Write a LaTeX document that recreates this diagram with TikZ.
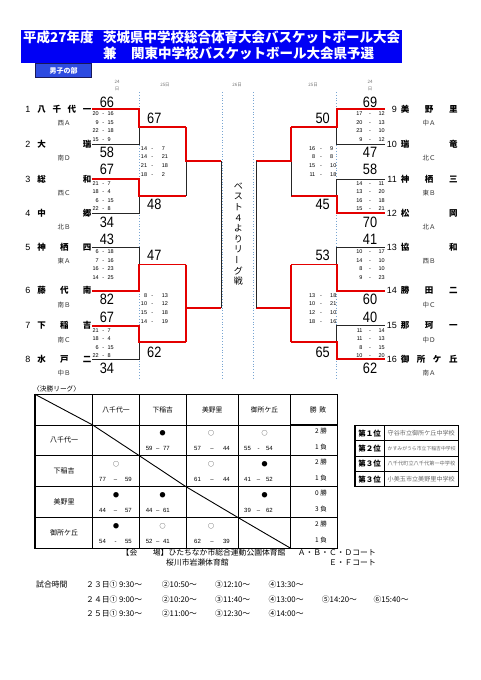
\documentclass[tikz,border=0pt]{standalone}
\usepackage{fontspec}
\usepackage{graphicx}
\setmainfont{Noto Sans CJK JP}
\newfontfamily\arialn[FakeStretch=0.85]{Liberation Sans}
\newfontfamily\arialf{Liberation Sans}
\definecolor{wred}{RGB}{228,0,0}
\definecolor{dotblue}{RGB}{120,165,210}
\definecolor{bannerblue}{RGB}{0,0,245}
\definecolor{tabblue}{RGB}{45,75,225}
\definecolor{tabedge}{RGB}{25,25,90}
\tikzset{
 blk/.style={line width=0.9pt, draw=black!85},
 win/.style={line width=1.9pt, draw=wred},
 dotl/.style={dotted, draw=dotblue, line width=0.8pt},
 bigsc/.style={inner sep=0pt, font=\arialn\fontsize{15}{15}\selectfont, text height=12pt, text depth=1.2pt},
 smsc/.style={inner sep=0pt, font=\arialf\fontsize{5.5}{6}\selectfont, text height=4.4pt, text depth=0.45pt},
 tname/.style={inner sep=0pt, font=\bfseries\fontsize{8.5}{9}\selectfont, text height=6.8pt, text depth=0.7pt},
 tnum/.style={inner sep=0pt, font=\arialf\fontsize{9}{9}\selectfont, text height=7.2pt, text depth=0.7pt},
 treg/.style={inner sep=0pt, font=\fontsize{6.5}{7}\selectfont, text=black!80, text height=5.2pt, text depth=0.5pt},
 datel/.style={inner sep=0pt, font=\fontsize{4.5}{5}\selectfont, text=black!55},
 ttl/.style={inner sep=0pt, text=white, font=\bfseries\fontsize{13.5}{14}\selectfont},
 vtxt/.style={inner sep=0pt, font=\fontsize{9}{9}\selectfont},
 tin/.style={line width=0.6pt, draw=black},
 tthick/.style={line width=1.2pt, draw=black},
 lhead/.style={inner sep=0pt, font=\fontsize{6.8}{7}\selectfont},
 lrow/.style={inner sep=0pt, font=\fontsize{7}{7}\selectfont},
 lsym/.style={inner sep=0pt, font=\fontsize{6}{6}\selectfont},
 lsc/.style={inner sep=0pt, font=\arialf\fontsize{6}{6}\selectfont, text height=4.8pt, text depth=0.5pt},
 wl/.style={inner sep=0pt, font=\fontsize{6.5}{7}\selectfont},
 rank/.style={inner sep=0pt, font=\bfseries\fontsize{7.5}{8}\selectfont},
 school/.style={inner sep=0pt, text=black!60, anchor=west},
 plain/.style={inner sep=0pt, anchor=west, font=\fontsize{7.8}{8}\selectfont},
}
% bracket match: winner t (top), b (bottom) or a (both halves red, output from bottom)
\newcommand\match[8]{%
 \coordinate (#1ta) at (#2,#5); \coordinate (#1tb) at (#3,#5);
 \coordinate (#1ba) at (#2,#6); \coordinate (#1bb) at (#3,#6);
 \coordinate (#1o) at (#3,#7); \coordinate (#1n) at (#4,#7);
 \draw[blk] (#1ta) -- (#1tb) -- (#1bb) -- (#1ba);
 \if t#8\relax
  \draw[win] (#1ta) -- (#1tb) -- (#1o) -- (#1n);
 \fi
 \if b#8\relax
  \draw[win] (#1ba) -- (#1bb) -- (#1o) -- (#1n);
 \fi
 \if a#8\relax
  \draw[win] (#1ta) -- (#1tb) -- (#1bb) -- (#1ba);
  \draw[win] (#1o) -- (#1n);
 \fi}
\newcommand\sfour[7]{%
 \foreach \sa/\sb [count=\si] in {#7} {
  \pgfmathsetmacro\yy{#5+#6*(\si-1)}
  \node[smsc,anchor=east] (#1a\si) at (#2,\yy) {\sa};
  \node[smsc] (#1h\si) at (#3,\yy) {-};
  \node[smsc,anchor=west] (#1b\si) at (#4,\yy) {\sb};
 }}
\newcommand\teamL[6]{%
 \node[tnum] (#1n) at (28,#3) {#2};
 \foreach \tch [count=\ti] in {#5} {
  \pgfmathsetmacro\xx{41.7+(\ti-1)*45.3/(#4-1)}
  \node[tname] (#1c\ti) at (\xx,#3) {\tch};}
 \node[treg] (#1r) at (64,#3+14) {#6};}
\newcommand\teamR[6]{%
 \node[tnum,anchor=east] (#1n) at (397,#3) {#2};
 \foreach \tch [count=\ti] in {#5} {
  \pgfmathsetmacro\xx{405+(\ti-1)*48.3/(#4-1)}
  \node[tname] (#1c\ti) at (\xx,#3) {\tch};}
 \node[treg] (#1r) at (429,#3+14) {#6};}
\newcommand\lcell[9]{%
 \node[lsym] (#1s) at (#2,#5+8.5) {#6};
 \node[lsc,anchor=west] (#1a) at (#3,#5+23.5) {#7};
 \node[lsc] (#1h) at ({(#3+#4)/2},#5+23.5) {#8};
 \node[lsc,anchor=east] (#1b) at (#4,#5+23.5) {#9};}
\begin{document}
\begin{tikzpicture}[x=1pt,y=-1pt]
\useasboundingbox (0,0) rectangle (481,680);
\fill[white] (0,0) rectangle (481,680);
% banner
\fill[bannerblue] (21,30) rectangle (402,63);
\node[ttl,anchor=west] (t1a) at (23,37) {平成27年度};
\node[ttl,anchor=west] (t1b) at (103,37) {茨城県中学校総合体育大会バスケットボール大会};
\node[ttl,anchor=west] (t2a) at (103,53.5) {兼};
\node[ttl,anchor=west] (t2b) at (131,53.5) {関東中学校バスケットボール大会県予選};
\node[draw=tabedge, line width=1pt, fill=tabblue, text=white, minimum width=56pt, minimum height=14pt, inner sep=0pt, font=\bfseries\fontsize{7}{7}\selectfont] (boys) at (63.5,70.5) {男子の部};
% dates
\node[datel] (d1a) at (117,81.5) {24};
\node[datel] (d1b) at (117,88.5) {日};
\node[datel] (d2) at (165,84.5) {25日};
\node[datel] (d3) at (237,84.5) {26日};
\node[datel] (d4) at (313,84.5) {25日};
\node[datel] (d5a) at (370,81.5) {24};
\node[datel] (d5b) at (370,88.5) {日};
% dotted guides
\foreach \dx in {139.3,222.7,253.3,336.7} \draw[dotl] (\dx,92) -- (\dx,378);
% left bracket
\match{m1}{92}{139.3}{186}{109.3}{144}{127}{t}
\match{m2}{92}{139.3}{186}{179}{213.3}{196}{t}
\match{m3}{92}{139.3}{186}{247.3}{290.7}{264.5}{b}
\match{m4}{92}{139.3}{186}{325.7}{359.3}{342}{t}
\match{s1}{186}{186}{221}{127}{196}{161.3}{t}
\match{s2}{186}{186}{221}{264.5}{342}{308.3}{a}
\draw[blk] (s1n) -- (s2n);
% right bracket
\match{m5}{384.5}{336.7}{291}{109.3}{144}{127}{t}
\match{m6}{384.5}{336.7}{291}{179}{213.3}{196}{b}
\match{m7}{384.5}{336.7}{291}{247.3}{290.7}{264.5}{b}
\match{m8}{384.5}{336.7}{291}{325.7}{359.3}{342}{b}
\match{s3}{291}{291}{256}{127}{196}{161.3}{t}
\match{s4}{291}{291}{256}{264.5}{342}{308.3}{a}
\draw[blk] (s3n) -- (s4n);
% teams
\teamL{tA}{1}{109.3}{4}{八,千,代,一}{西Ａ}
\teamL{tB}{2}{144}{2}{大,瑞}{南Ｄ}
\teamL{tC}{3}{179}{2}{総,和}{西Ｃ}
\teamL{tD}{4}{213.3}{2}{中,郷}{北Ｂ}
\teamL{tE}{5}{247.3}{3}{神,栖,四}{東Ａ}
\teamL{tF}{6}{290.7}{3}{藤,代,南}{南Ｂ}
\teamL{tG}{7}{325.7}{3}{下,稲,吉}{南Ｃ}
\teamL{tH}{8}{359.3}{3}{水,戸,二}{中Ｂ}
\teamR{tI}{9}{109.3}{3}{美,野,里}{中Ａ}
\teamR{tJ}{10}{144}{2}{瑞,竜}{北Ｃ}
\teamR{tK}{11}{179}{3}{神,栖,三}{東Ｂ}
\teamR{tL}{12}{213.3}{2}{松,岡}{北Ａ}
\teamR{tM}{13}{247.3}{2}{協,和}{西Ｂ}
\teamR{tN}{14}{290.7}{3}{勝,田,二}{中Ｃ}
\teamR{tO}{15}{325.7}{3}{那,珂,一}{中Ｄ}
\teamR{tP}{16}{359.3}{4}{御,所,ケ,丘}{南Ａ}
% big scores round 1
\foreach \sc/\sy [count=\k] in {66/101.7,58/151.7,67/169.3,34/221.7,43/239.3,82/299.3,67/316.7,34/367.7}
  \node[bigsc] (bl\k) at (107,\sy) {\sc};
\foreach \sc/\sy [count=\k] in {69/101.7,47/151.7,58/169.3,70/221.7,41/239.3,60/299.3,40/316.7,62/367.7}
  \node[bigsc] (br\k) at (370,\sy) {\sc};
% big scores round 2
\foreach \sc/\sy [count=\k] in {67/117.7,48/204,47/255,62/351.7}
  \node[bigsc] (bl2\k) at (154.3,\sy) {\sc};
\foreach \sc/\sy [count=\k] in {50/117.7,45/204,53/255,65/351.7}
  \node[bigsc] (br2\k) at (322.7,\sy) {\sc};
% small scores
\sfour{qa}{99}{103.3}{107.3}{113.8}{8.5}{20/16,9/15,22/18,15/9}
\sfour{qb}{99}{103.3}{107.3}{183.5}{8.5}{21/7,18/4,6/15,22/8}
\sfour{qc}{99}{103.3}{107.3}{251.8}{8.5}{6/18,7/16,16/23,14/25}
\sfour{qd}{99}{103.3}{107.3}{330.2}{8.5}{21/7,18/4,6/15,22/8}
\sfour{qe}{362.7}{370}{378.3}{113.8}{8.5}{17/12,20/13,23/10,9/12}
\sfour{qf}{362.7}{370}{378.3}{183.5}{8.5}{14/11,13/20,16/18,15/21}
\sfour{qg}{362.7}{370}{378.3}{251.8}{8.5}{10/17,14/10,8/10,9/23}
\sfour{qh}{362.7}{370}{378.3}{330.2}{8.5}{11/14,11/13,8/15,10/20}
\sfour{qi}{147.3}{152.3}{161.7}{148.4}{8.6}{14/7,14/21,21/18,18/2}
\sfour{qj}{147.3}{152.3}{161.7}{295.4}{8.6}{8/13,10/12,15/18,14/19}
\sfour{qk}{315.5}{321}{330}{148.4}{8.6}{16/9,8/8,15/10,11/18}
\sfour{ql}{315.5}{321}{330}{295.4}{8.6}{13/18,10/21,12/10,18/16}
% vertical text
\foreach \vc [count=\vi] in {ベ,ス,ト,４,よ,り,リ,{\rotatebox{90}{ー}},グ,戦}
  \node[vtxt] (v\vi) at (238.3,{186+10.6*(\vi-1)}) {\vc};
% league table
\node[inner sep=0pt, anchor=west, font=\fontsize{6.7}{7}\selectfont] (lg) at (33,389) {〈決勝リーグ〉};
\foreach \gx in {92.7,139.3,186,238.3} \draw[tin] (\gx,394.3) -- (\gx,548.3);
\foreach \gy in {425,455.7,486.7,517.7} {\draw[tin] (35,\gy) -- (290.7,\gy); \draw[tthick] (290.7,\gy) -- (337.7,\gy);}
\draw[tthick] (290.7,394.3) -- (290.7,548.3);
\draw[tthick] (35,394.3) rectangle (337.7,548.3);
\draw[line width=0.9pt] (35,394.3) -- (92.7,425) -- (139.3,455.7) -- (186,486.7) -- (238.3,517.7) -- (290.7,548.3);
\node[lhead] (h1) at (116,409.7) {八千代一};
\node[lhead] (h2) at (162.7,409.7) {下稲吉};
\node[lhead] (h3) at (212.2,409.7) {美野里};
\node[lhead] (h4) at (264.5,409.7) {御所ケ丘};
\node[lhead] (h5) at (318,409.7) {勝\hspace{0.4em}敗};
\node[lrow] (g1) at (64,440.3) {八千代一};
\node[lrow] (g2) at (64,471.2) {下稲吉};
\node[lrow] (g3) at (64,502.2) {美野里};
\node[lrow] (g4) at (64,533) {御所ケ丘};
\lcell{c12}{162.7}{145.7}{170}{425}{●}{59}{–}{77}
\lcell{c13}{211}{194}{230}{425}{○}{57}{–}{44}
\lcell{c14}{264.5}{244}{273}{425}{○}{55}{-}{54}
\lcell{c21}{116}{99}{132}{455.7}{○}{77}{–}{59}
\lcell{c23}{211}{194}{230}{455.7}{○}{61}{–}{44}
\lcell{c24}{264.5}{244}{273}{455.7}{●}{41}{–}{52}
\lcell{c31}{116}{99}{132}{486.7}{●}{44}{–}{57}
\lcell{c32}{162.7}{145.7}{170}{486.7}{●}{44}{–}{61}
\lcell{c34}{264.5}{244}{273}{486.7}{●}{39}{–}{62}
\lcell{c41}{116}{99}{132}{517.7}{●}{54}{-}{55}
\lcell{c42}{162.7}{145.7}{170}{517.7}{○}{52}{–}{41}
\lcell{c43}{211}{194}{230}{517.7}{○}{62}{–}{39}
\foreach \wn/\ln/\ry [count=\k] in {2/1/425,2/1/455.7,0/3/486.7,2/1/517.7} {
  \node[wl,anchor=east] (w\k) at (327,\ry+6.5) {\wn\ 勝};
  \node[wl,anchor=east] (l\k) at (327,\ry+22) {\ln\ 負};}
% ranking table
\draw[tthick] (355,425.7) rectangle (458.3,486.7);
\draw[tin, line width=0.9pt] (384,425.7) -- (384,486.7);
\foreach \ry in {440.7,456,471.7} \draw[tin, line width=0.9pt] (355,\ry) -- (458.3,\ry);
\node[rank] (k1) at (369.5,433.2) {第１位};
\node[rank] (k2) at (369.5,448.3) {第２位};
\node[rank] (k3) at (369.5,463.8) {第３位};
\node[rank] (k4) at (369.5,479.2) {第３位};
\node[school, font=\fontsize{6.1}{6}\selectfont] (p1) at (387.5,433.2) {守谷市立御所ケ丘中学校};
\node[school, font=\fontsize{4.85}{5}\selectfont] (p2) at (387.5,448.3) {かすみがうら市立下稲吉中学校};
\node[school, font=\fontsize{5.2}{5}\selectfont] (p3) at (387.5,463.8) {八千代町立八千代第一中学校};
\node[school, font=\fontsize{6.1}{6}\selectfont] (p4) at (387.5,479.2) {小美玉市立美野里中学校};
% venue
\node[plain] (vn1) at (121.5,552.7) {【会　　場】ひたちなか市総合運動公園体育館};
\node[plain, anchor=east] (vc1) at (376,552.7) {Ａ・Ｂ・Ｃ・Ｄコート};
\node[plain] (vn2) at (166,562.7) {桜川市岩瀬体育館};
\node[plain, anchor=east] (vc2) at (376,562.7) {Ｅ・Ｆコート};
% schedule
\node[plain] (sh) at (36,584.3) {試合時間};
\node[plain] (a1) at (86,584.3) {２３日①\ 9:30～};
\node[plain] (a2) at (161.7,584.3) {②10:50～};
\node[plain] (a3) at (215,584.3) {③12:10～};
\node[plain] (a4) at (268.3,584.3) {④13:30～};
\node[plain] (b1) at (86,599.3) {２４日①\ 9:00～};
\node[plain] (b2) at (161.7,599.3) {②10:20～};
\node[plain] (b3) at (215,599.3) {③11:40～};
\node[plain] (b4) at (268.3,599.3) {④13:00～};
\node[plain] (b5) at (321.7,599.3) {⑤14:20～};
\node[plain] (b6) at (373.3,599.3) {⑥15:40～};
\node[plain] (e1) at (86,614) {２５日①\ 9:30～};
\node[plain] (e2) at (161.7,614) {②11:00～};
\node[plain] (e3) at (215,614) {③12:30～};
\node[plain] (e4) at (268.3,614) {④14:00～};
\end{tikzpicture}
\end{document}
